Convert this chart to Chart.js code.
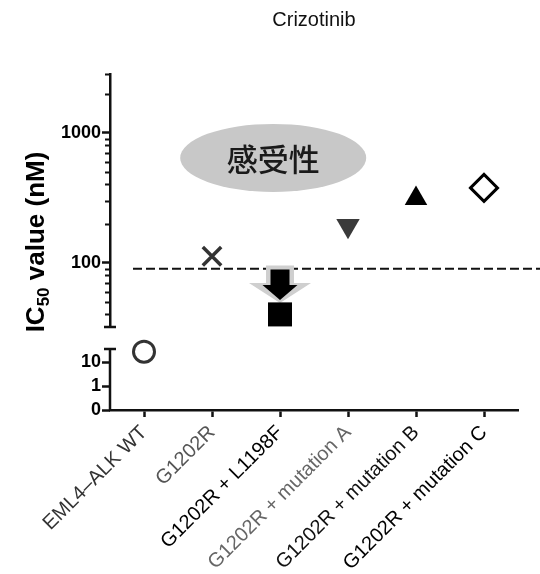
<!DOCTYPE html>
<html>
<head>
<meta charset="utf-8">
<script src="https://cdn.jsdelivr.net/npm/chart.js@4.4.1/dist/chart.umd.min.js"></script>
<style>
  html, body { margin: 0; padding: 0; background: #fff; }
  #wrap { width: 540px; height: 574px; }
</style>
</head>
<body>
<div id="wrap"><canvas id="myChart" width="540" height="574"></canvas></div>
<script>
const labels = ['EML4–ALK WT', 'G1202R', 'G1202R + L1198F', 'G1202R + mutation A', 'G1202R + mutation B', 'G1202R + mutation C'];
const labelColors = ['#333', '#555', '#000', '#666', '#111', '#000'];

// IC50 (nM) on the upper log segment
const upperValues = [null, 112, 40, 192, 312, 376];
// value below the axis break
const lowerValues = [27, null, null, null, null, null];

const upperRange = [32, 2830];
const lowerRange = [0.1, 35];   // 0.1 is shown as "0"
const lowerAxisMax = 290;       // includes the break gap
const upperMajor = [100, 1000];
const upperMinor = [40, 50, 60, 70, 80, 90, 200, 300, 400, 500, 600, 700, 800, 900, 2000];
const lowerTicks = [0.1, 1, 10];
const lowerTickLabels = ['0', '1', '10'];

const cutoff = 90;
const bubbleText = '感受性';
const bubbleAt = [1.9, 640];
const arrowAt = 2;
const arrowFrom = 95;
const arrowTo = 49;

const AXIS = '#111';
const FONT = '"Liberation Sans", Arial, sans-serif';

function drawArrow(ctx, cx, top, apex, shaftHalf, headHalf, headLen) {
    const headTop = apex - headLen;
    ctx.beginPath();
    ctx.moveTo(cx - shaftHalf, top);
    ctx.lineTo(cx + shaftHalf, top);
    ctx.lineTo(cx + shaftHalf, headTop);
    ctx.lineTo(cx + headHalf, headTop);
    ctx.lineTo(cx, apex);
    ctx.lineTo(cx - headHalf, headTop);
    ctx.lineTo(cx - shaftHalf, headTop);
    ctx.closePath();
    ctx.fill();
}

const overlay = {
    id: 'overlay',
    beforeDatasetsDraw(chart) {
        const { ctx, scales } = chart;
        const x = scales.x;
        const yTop = scales.yTop;
        ctx.save();

        // sensitivity bubble
        const bx = x.getPixelForValue(bubbleAt[0]);
        const by = yTop.getPixelForValue(bubbleAt[1]);
        ctx.fillStyle = '#c8c8c8';
        ctx.beginPath();
        ctx.ellipse(bx, by, 93, 34, 0, 0, Math.PI * 2);
        ctx.fill();
        ctx.fillStyle = '#1a1a1a';
        ctx.font = '500 31px "Noto Sans CJK JP"';
        ctx.textAlign = 'center';
        ctx.textBaseline = 'middle';
        ctx.fillText(bubbleText, bx, by + 1);

        // cutoff line
        const yc = yTop.getPixelForValue(cutoff);
        ctx.setLineDash([9, 4]);
        ctx.lineWidth = 2;
        ctx.strokeStyle = AXIS;
        ctx.beginPath();
        ctx.moveTo(x.left + 23, yc);
        ctx.lineTo(chart.width, yc);
        ctx.stroke();
        ctx.setLineDash([]);

        // arrow down to the square
        const ax = x.getPixelForValue(arrowAt);
        const a0 = yTop.getPixelForValue(arrowFrom);
        const a1 = yTop.getPixelForValue(arrowTo);
        ctx.fillStyle = '#cfcfcf';
        drawArrow(ctx, ax, a0, a1, 14, 31, 20);
        ctx.fillStyle = '#000';
        drawArrow(ctx, ax, a0 + 4, a1 - 3, 9.5, 17.5, 15);

        ctx.restore();
    },
    afterDraw(chart) {
        const { ctx, scales } = chart;
        const yTop = scales.yTop;
        const yBot = scales.yBot;
        const ax = yTop.right;
        ctx.save();
        ctx.strokeStyle = AXIS;
        ctx.lineWidth = 2;

        // minor ticks on upper segment
        ctx.beginPath();
        for (const v of upperMinor.concat([upperRange[1]])) {
            const py = Math.round(yTop.getPixelForValue(v)) + 0.5;
            ctx.moveTo(ax - 5, py);
            ctx.lineTo(ax, py);
        }
        ctx.stroke();

        // lower segment axis line and break caps
        ctx.lineWidth = 2.5;
        const lt = yBot.getPixelForValue(lowerRange[1]);
        ctx.beginPath();
        ctx.moveTo(ax, lt);
        ctx.lineTo(ax, yBot.bottom + 1);
        ctx.moveTo(ax - 6, lt);
        ctx.lineTo(ax + 6, lt);
        ctx.moveTo(ax - 6, yTop.bottom);
        ctx.lineTo(ax + 6, yTop.bottom);
        ctx.stroke();

        // y title with subscript
        ctx.fillStyle = '#000';
        ctx.translate(44, 242);
        ctx.rotate(-Math.PI / 2);
        const big = 'bold 26px ' + FONT;
        const small = 'bold 17px ' + FONT;
        ctx.font = big;
        const w1 = ctx.measureText('IC').width;
        const w3 = ctx.measureText(' value (nM)').width;
        ctx.font = small;
        const w2 = ctx.measureText('50').width;
        let px = -(w1 + w2 + w3) / 2;
        ctx.textBaseline = 'alphabetic';
        ctx.textAlign = 'left';
        ctx.font = big;
        ctx.fillText('IC', px, 0);
        px += w1;
        ctx.font = small;
        ctx.fillText('50', px, 5);
        px += w2;
        ctx.font = big;
        ctx.fillText(' value (nM)', px, 0);
        ctx.restore();
    }
};

const ctx = document.getElementById('myChart');

new Chart(ctx, {
    type: 'line',
    data: {
        labels: labels,
        datasets: [{
            data: upperValues,
            yAxisID: 'yTop',
            showLine: false,
            pointStyle: ['circle', 'crossRot', 'rect', 'triangle', 'triangle', 'rectRot'],
            pointRotation: [0, 0, 0, 180, 0, 0],
            pointRadius: [0, 13, 17, 13.5, 13, 13.5],
            pointBorderWidth: [0, 3.5, 0, 0, 0, 3],
            pointBackgroundColor: ['#000', '#333', '#000', '#3a3a3a', '#000', '#fff'],
            pointBorderColor: ['#000', '#333', '#000', '#3a3a3a', '#000', '#000'],
            clip: false,
        }, {
            data: lowerValues,
            yAxisID: 'yBot',
            showLine: false,
            pointStyle: 'circle',
            pointRadius: 10.5,
            pointBorderWidth: 3,
            pointBackgroundColor: '#fff',
            pointBorderColor: '#333',
            clip: false,
        }]
    },
    options: {
        responsive: false,
        animation: false,
        events: [],
        layout: { padding: { left: 0, right: 22, top: 0, bottom: 0 } },
        plugins: {
            legend: { display: false },
            tooltip: { enabled: false },
            title: {
                display: true,
                text: 'Crizotinib',
                fullSize: false,
                color: '#111',
                font: { family: FONT, size: 20, weight: 'normal', lineHeight: 1.2 },
                padding: { top: 8, bottom: 42 },
            },
        },
        scales: {
            x: {
                type: 'category',
                offset: true,
                border: { display: true, color: AXIS, width: 2.5 },
                grid: {
                    display: true,
                    drawOnChartArea: false,
                    offset: false,
                    tickLength: 7,
                    tickWidth: 2.5,
                    tickColor: AXIS,
                },
                ticks: {
                    minRotation: 45,
                    maxRotation: 45,
                    autoSkip: false,
                    padding: 4,
                    color: (c) => labelColors[c.index],
                    font: { family: FONT, size: 20 },
                },
                afterFit(scale) { scale.height = 164; },
            },
            yBot: {
                type: 'logarithmic',
                position: 'left',
                stack: 'ic50',
                stackWeight: 83,
                bounds: 'data',
                min: lowerRange[0],
                max: lowerAxisMax,
                border: { display: false },
                grid: {
                    display: true,
                    drawOnChartArea: false,
                    tickLength: 8,
                    tickWidth: 2.5,
                    tickColor: AXIS,
                },
                ticks: {
                    autoSkip: false,
                    padding: 1,
                    color: '#000',
                    font: { family: FONT, size: 18, weight: 'bold' },
                    callback: (v) => {
                        const i = lowerTicks.indexOf(v);
                        return i >= 0 ? lowerTickLabels[i] : '';
                    },
                },
                afterBuildTicks(scale) {
                    scale.ticks = lowerTicks.map(v => ({ value: v }));
                },
                afterFit(scale) { scale.width = 110; },
            },
            yTop: {
                type: 'logarithmic',
                position: 'left',
                stack: 'ic50',
                stackWeight: 253,
                bounds: 'data',
                min: upperRange[0],
                max: upperRange[1],
                border: { display: true, color: AXIS, width: 2.5 },
                grid: {
                    display: true,
                    drawOnChartArea: false,
                    tickLength: 8,
                    tickWidth: 2.5,
                    tickColor: (c) => (c.tick && upperMajor.includes(c.tick.value)) ? AXIS : 'rgba(0,0,0,0)',
                },
                ticks: {
                    autoSkip: false,
                    padding: 1,
                    color: '#000',
                    font: { family: FONT, size: 18, weight: 'bold' },
                    callback: (v) => upperMajor.includes(v) ? String(v) : '',
                },
                afterBuildTicks(scale) {
                    scale.ticks = upperMajor.concat(upperMinor)
                        .sort((a, b) => a - b)
                        .map(v => ({ value: v }));
                },
                afterFit(scale) { scale.width = 110; },
            },
        },
    },
    plugins: [overlay],
});
</script>
</body>
</html>
